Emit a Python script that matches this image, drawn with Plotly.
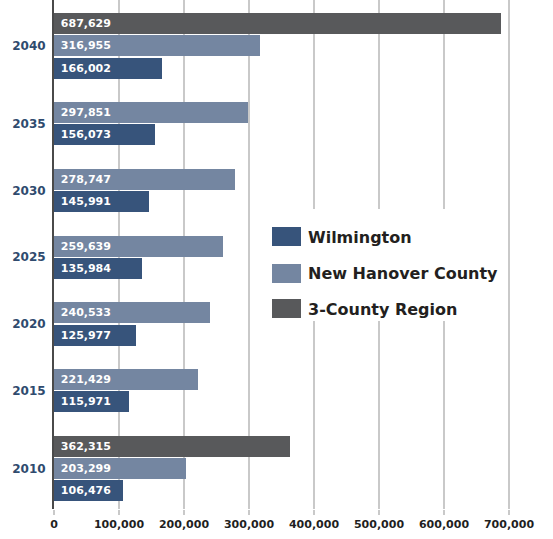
import plotly.graph_objects as go

# ---- data ----
years = ["2040", "2035", "2030", "2025", "2020", "2015", "2010"]
wilmington = [166002, 156073, 145991, 135984, 125977, 115971, 106476]
new_hanover = [316955, 297851, 278747, 259639, 240533, 221429, 203299]
three_county = [687629, None, None, None, None, None, 362315]
series_names = ["Wilmington", "New Hanover County", "3-County Region"]
x_ticks = [0, 100000, 200000, 300000, 400000, 500000, 600000, 700000]

colors = {"Wilmington": "#37547b", "New Hanover County": "#7486a1", "3-County Region": "#58595b"}

# ---- row layout: each bar gets its own slot, one empty slot between year groups ----
rows = {name: [] for name in series_names}
vals = {name: [] for name in series_names}
tick_pos = []
r = 0
for i, yr in enumerate(years):
    group = [("3-County Region", three_county[i]), ("New Hanover County", new_hanover[i]),
             ("Wilmington", wilmington[i])]
    start = r
    for name, v in group:
        if v is None:
            continue
        rows[name].append(r)
        vals[name].append(v)
        r += 1
    tick_pos.append((start + r - 1) / 2)
    r += 1  # gap

L, R, T, B = 54, 12, 0, 30
W, H = 553, 539
PW, PH = W - L - R, H - T - B
slot_px = 22.25
y_top = -0.5 - 12.5 / slot_px
y_bot = y_top + PH / slot_px
x_max = 100000 * PW / 65.0

FONT = "DejaVu Sans"

fig = go.Figure()
for name in ["Wilmington", "New Hanover County", "3-County Region"]:
    fig.add_trace(go.Bar(
        x=vals[name], y=rows[name], orientation="h", name=name,
        marker=dict(color=colors[name], line=dict(width=0)),
        width=0.95,
        texttemplate="\u00a0%{x:,}", textposition="inside", insidetextanchor="start",
        textangle=0,
        textfont=dict(family=FONT, size=11, color="white", weight="bold"),
        hoverinfo="skip", showlegend=False,
    ))

def px(x):
    return (x - L) / PW

def py(y):
    return 1 - (y - T) / PH

shapes = [dict(type="rect", xref="paper", yref="paper", x0=px(251), x1=px(506), y0=py(321), y1=py(209),
               fillcolor="white", line=dict(width=0), layer="above")]
annotations = []
legend_rows = [("Wilmington", 227, 246, 237), ("New Hanover County", 264, 283, 273),
               ("3-County Region", 299, 318, 309)]
for name, ya, yb, yc in legend_rows:
    shapes.append(dict(type="rect", xref="paper", yref="paper", x0=px(272), x1=px(301), y0=py(yb), y1=py(ya),
                       fillcolor=colors[name], line=dict(width=0), layer="above"))
    annotations.append(dict(xref="paper", yref="paper", x=px(306), y=py(yc), text=name, showarrow=False,
                            xanchor="left", yanchor="middle",
                            font=dict(family=FONT, size=16, color="#231f20", weight="bold")))

fig.update_layout(
    width=W, height=H, margin=dict(l=L, r=R, t=T, b=B, pad=0),
    paper_bgcolor="white", plot_bgcolor="white",
    barmode="overlay", bargap=0,
    shapes=shapes, annotations=annotations,
    xaxis=dict(range=[0, x_max], tickvals=x_ticks, tickformat=",", showgrid=True,
               gridcolor="#c9c9c9", gridwidth=1.5, zeroline=False, showline=False,
               ticks="outside", ticklen=5, tickcolor="#c9c9c9", tickwidth=1.5,
               tickfont=dict(family=FONT, size=11, color="#1f1f1f", weight="bold"), fixedrange=True),
    yaxis=dict(range=[y_bot, y_top], tickvals=tick_pos, ticktext=years, showgrid=False,
               zeroline=False, showline=True, linecolor="#4a4a4a", linewidth=2,
               ticks="", ticklabelstandoff=4,
               tickfont=dict(family=FONT, size=12, color="#2f4b6e", weight="bold"), fixedrange=True),
    hovermode=False,
)

fig.write_html("out.html", config={"displayModeBar": False},
               post_script="document.body.style.margin='0';document.body.style.overflow='hidden';")
